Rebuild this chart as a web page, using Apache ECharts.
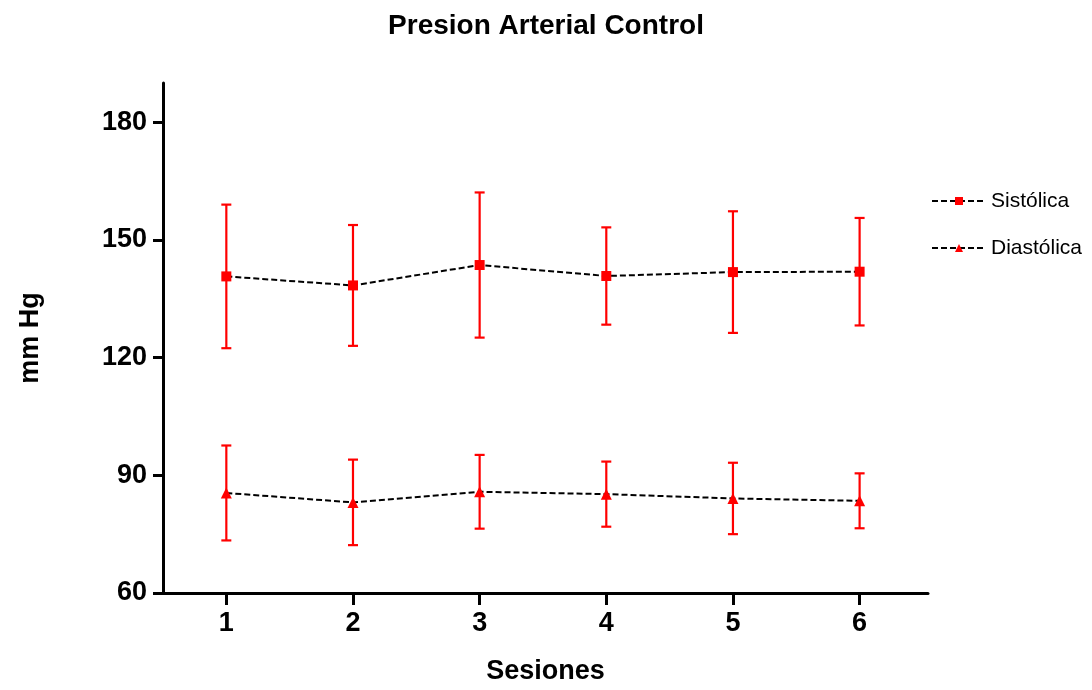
<!DOCTYPE html>
<html>
<head>
<meta charset="utf-8">
<script src="https://cdn.jsdelivr.net/npm/echarts@6/dist/echarts.min.js"></script>
<style>
  html, body { margin: 0; padding: 0; background: #fff; }
  #chart { width: 1092px; height: 690px; }
</style>
</head>
<body>
<div id="chart"></div>
<script>
// Sessions and blood pressure (mean ± SD, mm Hg)
const sessions = [1, 2, 3, 4, 5, 6];
const sistolicaMean = [140.7, 138.4, 143.6, 140.8, 141.8, 141.9];
const sistolicaSD   = [18.3, 15.4, 18.5, 12.4, 15.5, 13.7];
const diastolicaMean = [85.5, 83.1, 85.8, 85.2, 84.1, 83.5];
const diastolicaSD   = [12.1, 10.9, 9.4, 8.3, 9.1, 7.0];
const yTicks = [60, 90, 120, 150, 180];

const FONT = "'Liberation Sans', Arial, sans-serif";
const RED = '#ff0000';

function pairs(xs, ys) { return xs.map((x, i) => [x, ys[i]]); }
function errData(xs, m, sd) { return xs.map((x, i) => [x, m[i], sd[i]]); }

// Vertical error bar with caps, drawn in data coordinates
function renderErr(params, api) {
  const x = api.value(0), m = api.value(1), s = api.value(2);
  const top = api.coord([x, m + s]);
  const bot = api.coord([x, m - s]);
  const hw = 5;
  const style = { stroke: RED, lineWidth: 2.2, fill: null };
  return {
    type: 'group',
    children: [
      { type: 'line', shape: { x1: top[0], y1: top[1], x2: bot[0], y2: bot[1] }, style },
      { type: 'line', shape: { x1: top[0] - hw, y1: top[1], x2: top[0] + hw, y2: top[1] }, style },
      { type: 'line', shape: { x1: bot[0] - hw, y1: bot[1], x2: bot[0] + hw, y2: bot[1] }, style }
    ]
  };
}

const axisLineStyle = { color: '#000', width: 3 };

const chart = echarts.init(document.getElementById('chart'), null, { renderer: 'canvas' });
chart.setOption({
  animation: false,
  backgroundColor: '#fff',
  title: {
    text: 'Presion Arterial Control',
    left: 'center',
    top: 7,
    textStyle: { fontFamily: FONT, fontSize: 28, fontWeight: 'bold', color: '#000', lineHeight: 28 }
  },
  legend: {
    orient: 'vertical',
    left: 926,
    top: 184,
    itemWidth: 54,
    itemHeight: 10,
    itemGap: 23,
    textStyle: { fontFamily: FONT, fontSize: 21, color: '#000', lineHeight: 24, padding: [0, 0, 0, 0] },
    data: ['Sistólica', 'Diastólica']
  },
  grid: { left: 163, right: 164, top: 83, bottom: 97, containLabel: false },
  xAxis: {
    type: 'value',
    min: 0.5,
    max: 6.54,
    name: 'Sesiones',
    nameLocation: 'middle',
    nameGap: 65,
    nameTextStyle: { fontFamily: FONT, fontSize: 27, fontWeight: 'bold', color: '#000' },
    axisLine: { show: true, onZero: false, lineStyle: axisLineStyle },
    axisTick: { show: true, length: 12, lineStyle: { color: '#000', width: 3 }, customValues: sessions },
    axisLabel: { fontFamily: FONT, fontSize: 27, fontWeight: 'bold', color: '#000', margin: 17, customValues: sessions },
    splitLine: { show: false }
  },
  yAxis: {
    type: 'value',
    min: 60,
    max: 190,
    interval: 30,
    name: 'mm Hg',
    nameLocation: 'middle',
    nameGap: 119,
    nameRotate: 90,
    nameTextStyle: { fontFamily: FONT, fontSize: 27, fontWeight: 'bold', color: '#000' },
    axisLine: { show: true, lineStyle: axisLineStyle },
    axisTick: { show: true, length: 10, lineStyle: { color: '#000', width: 3 }, customValues: yTicks },
    axisLabel: { fontFamily: FONT, fontSize: 27, fontWeight: 'bold', color: '#000', margin: 16, padding: [5, 0, 0, 0], customValues: yTicks },
    splitLine: { show: false }
  },
  series: [
    {
      name: 'Sistólica err',
      type: 'custom',
      renderItem: renderErr,
      data: errData(sessions, sistolicaMean, sistolicaSD),
      encode: { x: 0, y: [1] },
      z: 2,
      silent: true
    },
    {
      name: 'Diastólica err',
      type: 'custom',
      renderItem: renderErr,
      data: errData(sessions, diastolicaMean, diastolicaSD),
      encode: { x: 0, y: [1] },
      z: 2,
      silent: true
    },
    {
      name: 'Sistólica',
      type: 'line',
      data: pairs(sessions, sistolicaMean),
      symbol: 'rect',
      symbolSize: 10,
      itemStyle: { color: RED },
      lineStyle: { color: '#000', width: 2, type: [6, 3] },
      z: 3
    },
    {
      name: 'Diastólica',
      type: 'line',
      data: pairs(sessions, diastolicaMean),
      symbol: 'triangle',
      symbolSize: 11,
      itemStyle: { color: RED },
      lineStyle: { color: '#000', width: 2, type: [6, 3] },
      z: 3
    }
  ]
});
</script>
</body>
</html>
